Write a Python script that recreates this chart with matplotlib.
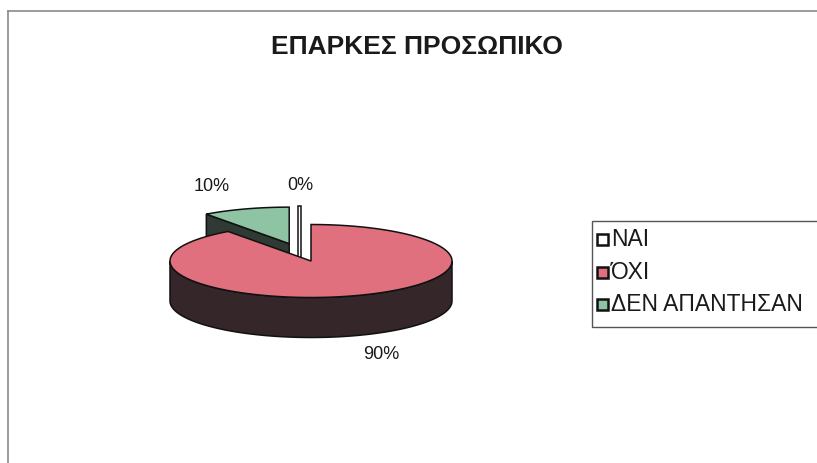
import numpy as np
import matplotlib
matplotlib.use("Agg")
import matplotlib.pyplot as plt
from matplotlib.patches import Polygon, Rectangle

# Survey answers (percent)
categories = ["ΝΑΙ", "ΌΧΙ", "ΔΕΝ ΑΠΑΝΤΗΣΑΝ"]
values = [0, 90, 10]
title = "ΕΠΑΡΚΕΣ ΠΡΟΣΩΠΙΚΟ"

top_colors = ["#FFFFFF", "#E0707E", "#8EC4A4"]
side_colors = ["#FFFFFF", "#35262A", "#2E3A33"]
explode = [0.5, 0.0, 0.5]
label_pos = [(300, 186), (381, 355), (212, 187)]

plt.rcParams["font.family"] = ["Liberation Sans", "DejaVu Sans"]

W, H = 817, 464
fig = plt.figure(figsize=(W / 100, H / 100), dpi=100)
ax = fig.add_axes([0, 0, 1, 1])
ax.set_xlim(0, W)
ax.set_ylim(H, 0)
ax.axis("off")

# chart frame
ax.plot([8, W + 5], [12, 12], color="#8a8a8a", lw=1.2)
ax.plot([8, 8], [12, H + 5], color="#8a8a8a", lw=1.2)

ax.text(417, 47, title, ha="center", va="center", fontsize=19,
        fontweight="bold", color="#1a1a1a")

# 3D pie geometry (screen pixels)
cx, cy, rx, ry, depth = 311.0, 262.0, 141.0, 36.5, 40.0


def pt(theta_deg, r=1.0, off=(0.0, 0.0), dz=0.0):
    t = np.radians(theta_deg)
    return (cx + off[0] + r * rx * np.sin(t),
            cy + off[1] - r * ry * np.cos(t) + dz)


total = float(sum(values))
starts, ends = [], []
a = 0.0
for v in values:
    starts.append(a)
    a += 360.0 * v / total
    ends.append(a)

offsets = []
for i, v in enumerate(values):
    mid = np.radians((starts[i] + ends[i]) / 2)
    ox = explode[i] * rx * np.sin(mid)
    oy = -explode[i] * ry * np.cos(mid)
    if v == 0:
        ox -= 11.0  # keep the empty slice clear of its neighbour's edge
    offsets.append((ox, oy))

ec = "#111111"
lw = 1.1


def draw_slice(i, z):
    s, e, off = starts[i], ends[i], offsets[i]
    apex = (cx + off[0], cy + off[1])
    if values[i] == 0:
        x0 = apex[0]
        top = pt(s, 1.0, off)[1]
        ax.add_patch(Rectangle((x0 - 1.5, top), 3.0, apex[1] + depth - top,
                               facecolor=top_colors[i], edgecolor=ec, lw=lw,
                               zorder=z))
        return
    # radial cut faces: the start face looks toward the viewer when
    # sin(start) < 0, the end face when sin(end) > 0
    for ang, visible in ((s, np.sin(np.radians(s)) < -1e-6),
                         (e, np.sin(np.radians(e)) > 1e-6)):
        if not visible:
            continue
        p = pt(ang, 1.0, off)
        quad = [apex, p, (p[0], p[1] + depth), (apex[0], apex[1] + depth)]
        ax.add_patch(Polygon(quad, closed=True, facecolor=side_colors[i],
                             edgecolor=ec, lw=lw, zorder=z))
    # outer wall, front half only
    lo, hi = max(s, 90.0), min(e, 270.0)
    if hi > lo:
        th = np.linspace(lo, hi, 120)
        upper = [pt(t, 1.0, off) for t in th]
        lower = [pt(t, 1.0, off, depth) for t in th[::-1]]
        ax.add_patch(Polygon(upper + lower, closed=True,
                             facecolor=side_colors[i], edgecolor=ec, lw=lw,
                             zorder=z))
    # top face
    th = np.linspace(s, e, max(int((e - s) * 2), 4))
    poly = [apex] + [pt(t, 1.0, off) for t in th]
    ax.add_patch(Polygon(poly, closed=True, facecolor=top_colors[i],
                         edgecolor=ec, lw=lw, zorder=z + 0.5))


# paint back slices first
draw_slice(2, 2)
draw_slice(0, 3)
draw_slice(1, 4)

for i, v in enumerate(values):
    ax.text(label_pos[i][0], label_pos[i][1], f"{v}%", ha="center",
            va="center", fontsize=13, color="#1a1a1a", zorder=10)

# legend
ax.add_patch(Rectangle((592, 222), 240, 106, facecolor="white",
                       edgecolor="#555555", lw=1.0, zorder=5))
leg_y = [240, 273, 305]
for i, lab in enumerate(categories):
    ax.add_patch(Rectangle((597, leg_y[i] - 5.5), 11, 11,
                           facecolor=top_colors[i], edgecolor="#111111",
                           lw=1.8, zorder=6))
    ax.text(611, leg_y[i], lab, ha="left", va="center", fontsize=16.5,
            color="#1a1a1a", zorder=6)

fig.savefig("out.png", dpi=100, facecolor="white")
